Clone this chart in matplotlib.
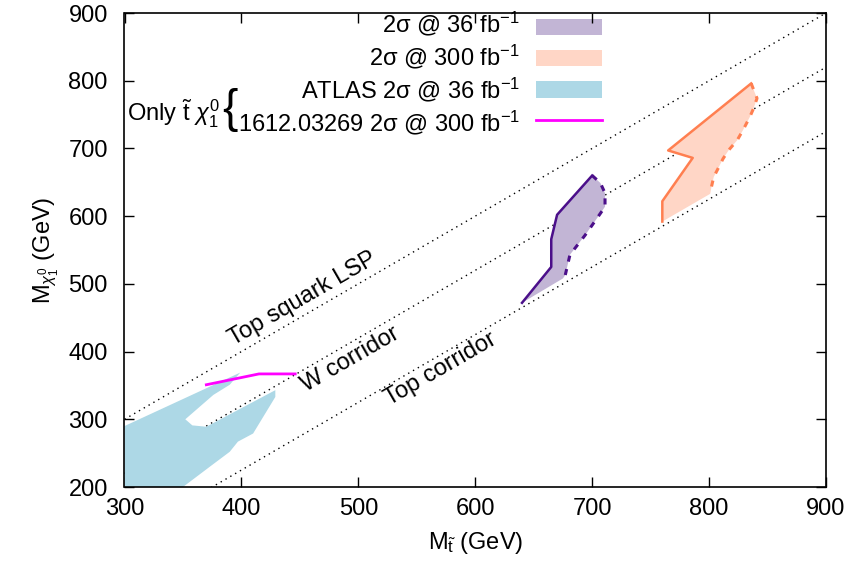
import matplotlib
matplotlib.use("Agg")
import matplotlib.pyplot as plt
from matplotlib.patches import Rectangle
import numpy as np

plt.rcParams['font.family'] = ['Liberation Sans', 'DejaVu Sans']
plt.rcParams['mathtext.fontset'] = 'custom'
plt.rcParams['mathtext.rm'] = 'Liberation Sans'
plt.rcParams['mathtext.it'] = 'Liberation Sans:italic'
plt.rcParams['mathtext.bf'] = 'Liberation Sans:bold'

FS = 17

# ---- data ----
purple_left_x = [640, 665, 665, 670, 700]
purple_left_y = [472, 525, 566, 602, 660]
purple_right_x = [700, 707, 711, 711, 705, 694, 681, 677, 675]
purple_right_y = [660, 649, 634, 614, 599, 572, 543, 513, 508]

peach_left_x = [760, 760, 786, 765, 836]
peach_left_y = [592, 622, 686, 697, 796]
peach_right_x = [836, 841, 838, 835, 829, 824, 817, 812, 807, 804, 802, 801]
peach_right_y = [796, 774, 759, 747, 727, 712, 698, 685, 668, 658, 643, 633]

atlas_x = [300, 399, 390, 376, 352, 358, 370, 429, 429, 410, 397, 390, 373, 350, 300]
atlas_y = [290, 369, 351, 336, 300, 291, 289, 343, 333, 279, 267, 252, 230, 200, 200]

ref_x = [370, 415, 446]
ref_y = [351, 367, 367]

corridor_offsets = [0, 80, 175]   # LSP boundary, W corridor, top corridor
xticks = [300, 400, 500, 600, 700, 800, 900]
yticks = [200, 300, 400, 500, 600, 700, 800, 900]

purple_fill, purple_edge = '#c2b5d5', '#4b0f8a'
peach_fill, peach_edge = '#ffd6c6', '#ff7f50'
atlas_fill = '#add8e6'
ref_col = '#ff00ff'

fig = plt.figure(figsize=(8.54, 5.63), dpi=100)
ax = fig.add_axes([124.5/854, 1-487/563, 701.5/854, 474/563])
ax.set_xlim(300, 900)
ax.set_ylim(200, 900)

# diagonal lines
xs = np.array([300, 900])
for off in corridor_offsets:
    ax.plot(xs, xs - off, color='black', lw=1.0, ls=(0, (1, 3)), zorder=1)

# ATLAS region
ax.fill(atlas_x, atlas_y, color=atlas_fill, lw=0, zorder=2)

# purple region
px = purple_left_x + purple_right_x[1:]
py = purple_left_y + purple_right_y[1:]
ax.fill(px, py, color=purple_fill, lw=0, zorder=2)
ax.plot(purple_left_x, purple_left_y, color=purple_edge, lw=1.8, zorder=3)
ax.plot(purple_right_x, purple_right_y, color=purple_edge, lw=2.2, ls=(0, (2, 2.5)), zorder=3)

# peach region
qx = peach_left_x + peach_right_x[1:]
qy = peach_left_y + peach_right_y[1:]
ax.fill(qx, qy, color=peach_fill, lw=0, zorder=2)
ax.plot(peach_left_x, peach_left_y, color=peach_edge, lw=1.8, zorder=3)
ax.plot(peach_right_x, peach_right_y, color=peach_edge, lw=2.2, ls=(0, (2, 2.5)), zorder=3)

# reference line
ax.plot(ref_x, ref_y, color=ref_col, lw=2.0, zorder=3)

# corridor labels
ax.text(452, 478, 'Top squark LSP', rotation=30, ha='center', va='center', fontsize=FS, rotation_mode='anchor')
ax.text(493, 389, 'W corridor', rotation=30, ha='center', va='center', fontsize=FS, rotation_mode='anchor')
ax.text(570, 374, 'Top corridor', rotation=30, ha='center', va='center', fontsize=FS, rotation_mode='anchor')

# legend (manual, in axes fraction)
def fx(p):
    return (p - 124.5) / 701.5
def fy(p):
    return (487 - p) / 474

labels = [r'2σ @ 36 fb$^{\mathregular{-1}}$', r'2σ @ 300 fb$^{\mathregular{-1}}$',
          r'ATLAS 2σ @ 36 fb$^{\mathregular{-1}}$', r'1612.03269 2σ @ 300 fb$^{\mathregular{-1}}$']
baselines = [32, 65, 98, 131]
for lab, b in zip(labels, baselines):
    ax.text(fx(520), fy(b), lab, transform=ax.transAxes, ha='right', va='baseline', fontsize=FS)

for (top, bot, col) in [(19, 35, purple_fill), (50, 66, peach_fill), (81, 98, atlas_fill)]:
    ax.add_patch(Rectangle((fx(536), fy(bot)), fx(602) - fx(536), fy(top) - fy(bot),
                           transform=ax.transAxes, color=col, lw=0))
ax.plot([fx(536), fx(602)], [fy(120), fy(120)], transform=ax.transAxes, color=ref_col, lw=2)

ax.text(fx(127), fy(121), r'Only $\tilde{\mathregular{t}}\ \chi_1^0$', transform=ax.transAxes,
        ha='left', va='baseline', fontsize=FS)
ax.text(fx(230), fy(110), '{', transform=ax.transAxes, ha='center', va='center', fontsize=33)

ax.set_xticks(xticks)
ax.set_yticks(yticks)
ax.tick_params(direction='in', top=True, right=True, length=7, width=1, labelsize=FS)
ax.tick_params(axis='x', pad=8)
ax.tick_params(axis='y', pad=12)
for s in ax.spines.values():
    s.set_linewidth(1.2)

ax.set_xlabel(r'M$_{\tilde{\mathregular{t}}}$ (GeV)', fontsize=FS, labelpad=7)
ax.set_ylabel(r'M$_{\chi_1^0}$ (GeV)', fontsize=FS, labelpad=5)

fig.savefig('out.png', dpi=100)
